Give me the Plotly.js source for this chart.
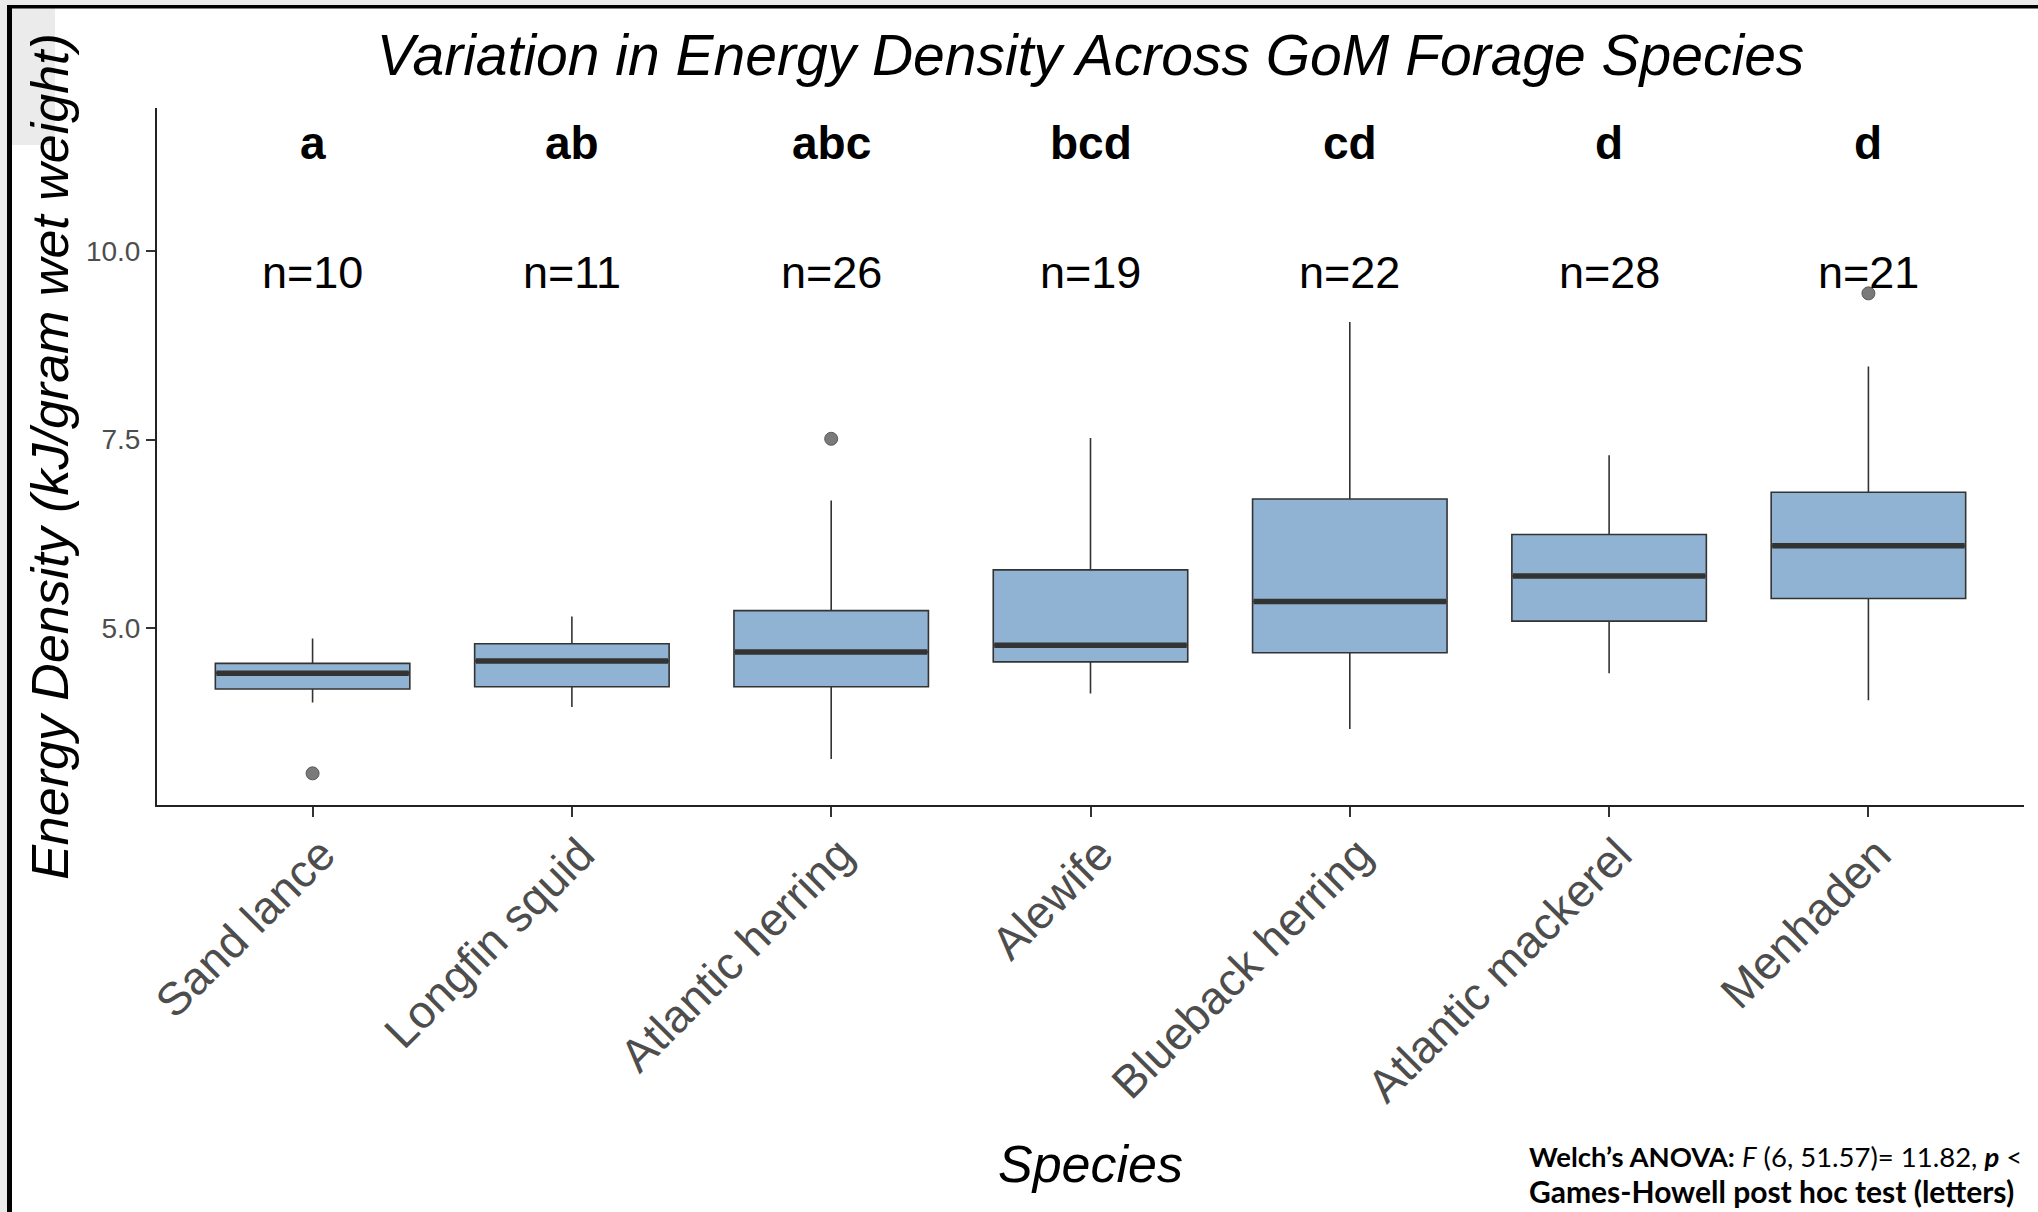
<!DOCTYPE html>
<html>
<head>
<meta charset="utf-8">
<script src="https://cdn.plot.ly/plotly-3.0.1.min.js"></script>
<style>
  html, body { margin: 0; padding: 0; background: #ffffff; }
  #chart { width: 2038px; height: 1212px; }
</style>
</head>
<body>
<div id="chart"></div>
<script>
// ---------------- data ----------------
const species = ['Sand lance', 'Longfin squid', 'Atlantic herring', 'Alewife',
                 'Blueback herring', 'Atlantic mackerel', 'Menhaden'];
const q1Values      = [4.19, 4.22, 4.22, 4.55, 4.67, 5.09, 5.39];
const medianValues  = [4.40, 4.56, 4.68, 4.77, 5.35, 5.69, 6.09];
const q3Values      = [4.53, 4.79, 5.23, 5.77, 6.71, 6.24, 6.80];
const lowerWhiskers = [4.01, 3.95, 3.26, 4.13, 3.66, 4.40, 4.04];
const upperWhiskers = [4.86, 5.15, 6.69, 7.52, 9.06, 7.29, 8.47];
const outlierSpecies = ['Sand lance', 'Atlantic herring', 'Menhaden'];
const outlierValues  = [3.07, 7.51, 9.44];
const groupLetters = ['a', 'ab', 'abc', 'bcd', 'cd', 'd', 'd'];
const sampleSizes  = [10, 11, 26, 19, 22, 28, 21];
const yTickValues  = [5.0, 7.5, 10.0];
const yTickLabels  = ['5.0', '7.5', '10.0'];

// ---------------- layout geometry (pixels) ----------------
const W = 2038, H = 1212;
const M = { l: 157, r: 14, t: 108, b: 407 };
const plotW = W - M.l - M.r, plotH = H - M.t - M.b;
const px = x => (x - M.l) / plotW;        // pixel -> paper x
const py = y => (H - M.b - y) / plotH;    // pixel -> paper y

const FONT = '"Liberation Sans", Arial, sans-serif';
const NOTE_FONT = 'Lato, "Open Sans", sans-serif';
const letterY = 11.43, nY = 9.72;

const traces = [
  {
    type: 'box', x: species,
    q1: q1Values, median: medianValues, q3: q3Values,
    lowerfence: lowerWhiskers, upperfence: upperWhiskers,
    boxpoints: false, width: 0.75, whiskerwidth: 0,
    fillcolor: '#91b3d3',
    line: { color: '#333333', width: 1.6 },
    hoverinfo: 'skip', showlegend: false
  },
  {
    // thick median bar drawn as a flat box at the median
    type: 'box', x: species,
    q1: medianValues, median: medianValues, q3: medianValues,
    lowerfence: medianValues, upperfence: medianValues,
    boxpoints: false, width: 0.742, whiskerwidth: 0,
    fillcolor: 'rgba(0,0,0,0)',
    line: { color: '#333333', width: 5.5 },
    hoverinfo: 'skip', showlegend: false
  },
  {
    type: 'scatter', mode: 'markers', x: outlierSpecies, y: outlierValues,
    marker: { size: 13, color: '#7a7a7a', line: { color: '#5a5a5a', width: 1 } },
    hoverinfo: 'skip', showlegend: false
  }
];

const annotations = [];
species.forEach((s, i) => {
  annotations.push({
    x: s, y: letterY, xref: 'x', yref: 'y', text: '<b>' + groupLetters[i] + '</b>',
    showarrow: false, xanchor: 'center', yanchor: 'middle',
    font: { family: FONT, size: 46, color: '#000000' }
  });
  annotations.push({
    x: s, y: nY, xref: 'x', yref: 'y', text: 'n=' + sampleSizes[i],
    showarrow: false, xanchor: 'center', yanchor: 'middle',
    font: { family: FONT, size: 45, color: '#000000' }
  });
});
annotations.push({
  xref: 'paper', yref: 'paper', x: px(1527), y: py(1156),
  xanchor: 'left', yanchor: 'middle', align: 'left', showarrow: false,
  text: '<b>Welch\u2019s ANOVA:</b> <i>F</i> (6, 51.57)= 11.82, <b><i>p</i></b> &lt;',
  font: { family: NOTE_FONT, size: 27.5, color: '#000000' }
});
annotations.push({
  xref: 'paper', yref: 'paper', x: px(1527), y: py(1191),
  xanchor: 'left', yanchor: 'middle', align: 'left', showarrow: false,
  text: '<b>Games-Howell post hoc test (letters)</b>',
  font: { family: NOTE_FONT, size: 30, color: '#000000' }
});

const shapes = [
  // screenshot surroundings
  { type: 'rect', xref: 'paper', yref: 'paper', x0: px(0), x1: px(W), y0: py(0), y1: py(5),
    fillcolor: '#ebebeb', line: { width: 0 }, layer: 'below' },
  { type: 'rect', xref: 'paper', yref: 'paper', x0: px(0), x1: px(7), y0: py(0), y1: py(H),
    fillcolor: '#ebebeb', line: { width: 0 }, layer: 'below' },
  { type: 'rect', xref: 'paper', yref: 'paper', x0: px(12), x1: px(55), y0: py(8), y1: py(145),
    fillcolor: '#ebebeb', line: { width: 0 }, layer: 'below' },
  { type: 'rect', xref: 'paper', yref: 'paper', x0: px(7), x1: px(W + 5), y0: py(5), y1: py(8.5),
    fillcolor: '#000000', line: { width: 0 } },
  { type: 'rect', xref: 'paper', yref: 'paper', x0: px(7), x1: px(12), y0: py(5), y1: py(H + 5),
    fillcolor: '#000000', line: { width: 0 } }
];

const layout = {
  width: W, height: H,
  margin: M,
  paper_bgcolor: '#ffffff', plot_bgcolor: '#ffffff',
  font: { family: FONT, color: '#000000' },
  title: {
    text: 'Variation in Energy Density Across GoM Forage Species',
    x: 0.5, xref: 'paper', xanchor: 'center',
    y: 1 - 55 / H, yref: 'container', yanchor: 'middle',
    font: { family: FONT, size: 57, style: 'italic', color: '#000000' }
  },
  xaxis: {
    type: 'category', categoryorder: 'array', categoryarray: species,
    range: [-0.6, species.length - 0.4],
    showline: true, linecolor: '#222222', linewidth: 2,
    ticks: 'outside', ticklen: 10, tickwidth: 2, tickcolor: '#333333',
    tickangle: -45, showgrid: false, zeroline: false,
    ticklabelstandoff: -8, ticklabelshift: 9,
    tickfont: { family: FONT, size: 46, color: '#4d4d4d' },
    title: { text: 'Species', standoff: 34,
             font: { family: FONT, size: 52, style: 'italic', color: '#000000' } },
    automargin: false
  },
  yaxis: {
    range: [2.65, 11.9],
    tickvals: yTickValues, ticktext: yTickLabels,
    showline: true, linecolor: '#222222', linewidth: 2,
    ticks: 'outside', ticklen: 9, tickwidth: 2, tickcolor: '#333333',
    showgrid: false, zeroline: false,
    tickfont: { family: FONT, size: 28, color: '#4d4d4d' },
    title: { text: 'Energy Density (kJ/gram wet weight)', standoff: 1,
             font: { family: FONT, size: 52, style: 'italic', color: '#000000' } },
    automargin: false
  },
  annotations: annotations,
  shapes: shapes,
  showlegend: false,
  boxmode: 'overlay'
};

Plotly.newPlot('chart', traces, layout, { displayModeBar: false, staticPlot: true });
</script>
</body>
</html>
